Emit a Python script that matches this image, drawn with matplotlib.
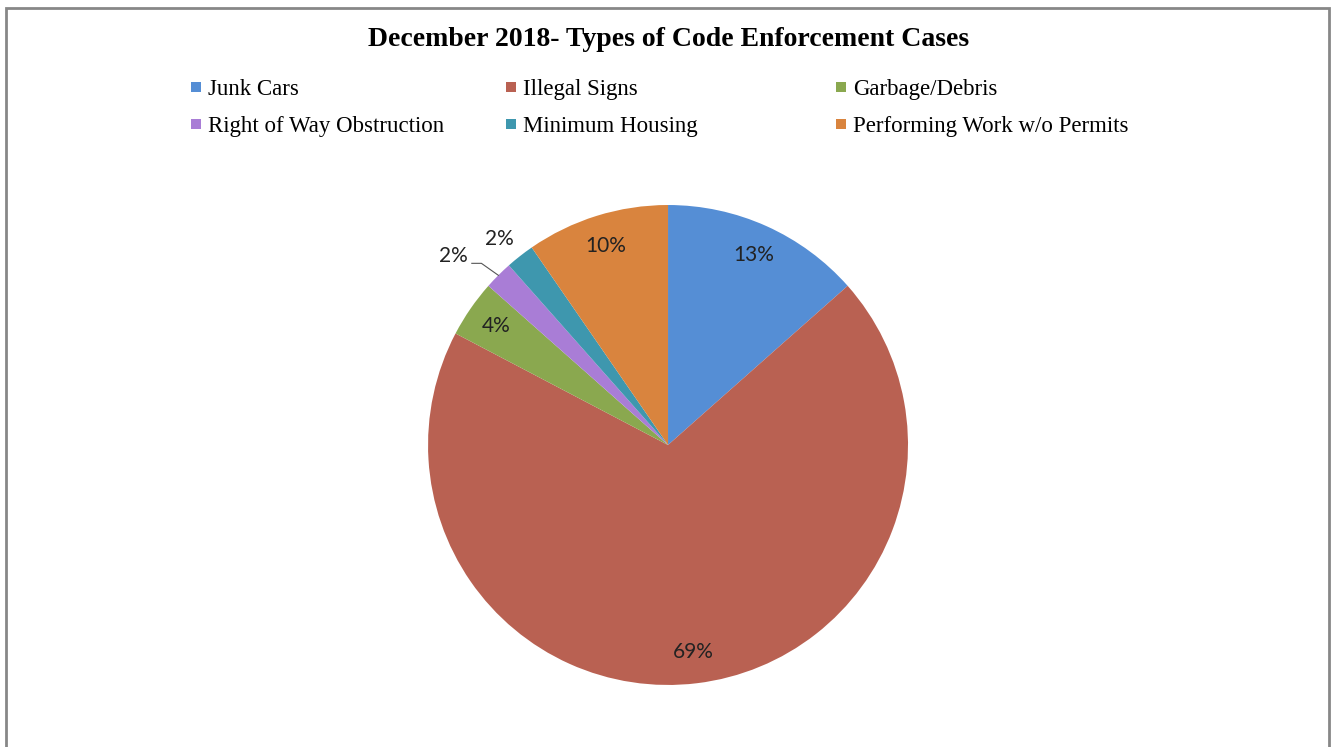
import numpy as np
import matplotlib.pyplot as plt
from matplotlib.lines import Line2D
from matplotlib.patches import Rectangle

# data to plot (case counts)
categories = ['Junk Cars', 'Illegal Signs', 'Garbage/Debris',
              'Right of Way Obstruction', 'Minimum Housing',
              'Performing Work w/o Permits']
cases = [7, 36, 2, 1, 1, 5]
colors = ['#558ED5', '#B96152', '#8AA84F', '#A97DD6', '#3E97AE', '#D9843E']

fig = plt.figure(figsize=(13.31, 7.47), dpi=100)

# chart border
fig.patches.append(Rectangle((6 / 1331, -0.02), 1323 / 1331, 0.02 + 1 - 8 / 747,
                             transform=fig.transFigure, fill=False,
                             edgecolor='#878787', linewidth=2))

ax = fig.add_axes([0.3216, 0.083, 0.3606, 0.6426])
wedges, _ = ax.pie(cases, colors=colors, startangle=90, counterclock=False,
                   radius=1.0, wedgeprops=dict(linewidth=0))
ax.set_xlim(-1, 1)
ax.set_ylim(-1, 1)
ax.set_aspect('equal')
ax.axis('off')

total = sum(cases)
label_font = dict(family='Lato', fontsize=15, color='#222222')
for i, w in enumerate(wedges):
    pct = '%d%%' % round(100.0 * cases[i] / total)
    mid = np.deg2rad((w.theta1 + w.theta2) / 2)
    if i == 3:
        # outside with leader line
        ang = np.deg2rad(138.6)
        tx, ty = 1.19 * np.cos(ang), 1.19 * np.sin(ang)
        ax.text(tx, ty, pct, ha='center', va='center', **label_font)
        ex, ey = np.cos(mid), np.sin(mid)
        ax.plot([tx + 0.075, tx + 0.115, ex], [ty - 0.03, ty - 0.03, ey],
                color='#555555', lw=0.8, clip_on=False)
    elif i == 4:
        ang = np.deg2rad(129.3)
        ax.text(1.11 * np.cos(ang), 1.11 * np.sin(ang), pct,
                ha='center', va='center', **label_font)
    else:
        r = 0.87
        ax.text(r * np.cos(mid), r * np.sin(mid), pct,
                ha='center', va='center', **label_font)

fig.text(0.502, 1 - 39 / 747, 'December 2018- Types of Code Enforcement Cases',
         ha='center', va='center', family='Liberation Serif',
         fontweight='bold', fontsize=20)

# legend laid out in rows, three columns
col_x = [190 / 1331, 505 / 1331, 835 / 1331]
for c in range(3):
    idx = [c, c + 3]
    handles = [Line2D([], [], marker='s', linestyle='none', markersize=7,
                      markerfacecolor=colors[k], markeredgewidth=0)
               for k in idx]
    fig.legend(handles, [categories[k] for k in idx], loc='upper left',
               bbox_to_anchor=(col_x[c], 1 - 79 / 747), frameon=False,
               prop=dict(family='Liberation Serif', size=16.5),
               handlelength=0.5, handletextpad=0.3, labelspacing=0.68,
               borderpad=0, borderaxespad=0)

fig.savefig('out.png', dpi=100)
